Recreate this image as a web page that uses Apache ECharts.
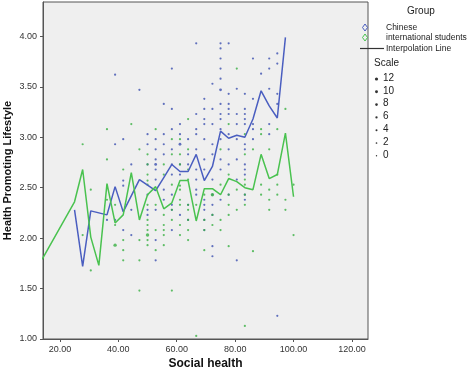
<!DOCTYPE html>
<html>
<head>
<meta charset="utf-8">
<script src="https://cdn.jsdelivr.net/npm/echarts@6/dist/echarts.min.js"></script>
<style>
  html, body { margin: 0; padding: 0; background: #fff; }
  #chart { width: 472px; height: 374px; }
</style>
</head>
<body>
<div id="chart"></div>
<script>
// axis ticks
const xTicks = [20, 40, 60, 80, 100, 120];
const yTicks = [1, 1.5, 2, 2.5, 3, 3.5, 4];

// interpolation lines (mean lifestyle per social health score)
const chineseLineX = [25, 27.78, 30.56, 33.33, 36.11, 38.89, 41.67, 47.22, 52.78, 55.56, 58.33, 61.11, 63.89, 66.67, 69.44, 72.22, 75, 77.78, 80.56, 83.33, 86.11, 88.89, 91.67, 94.44, 97.22];
const chineseLineY = [2.28, 1.72, 2.27, 2.25, 2.23, 2.51, 2.26, 2.58, 2.47, 2.60, 2.73, 2.66, 2.66, 2.83, 2.57, 2.71, 3.06, 2.99, 3.02, 3.00, 3.18, 3.46, 3.31, 3.19, 3.99];
const intlLineX = [13.89, 25, 27.78, 30.56, 33.33, 36.11, 38.89, 41.67, 44.44, 47.22, 50, 52.78, 55.56, 58.33, 61.11, 63.89, 66.67, 69.44, 72.22, 75, 77.78, 80.56, 83.33, 86.11, 88.89, 91.67, 94.44, 97.22, 100];
const intlLineY = [1.79, 2.36, 2.68, 2.01, 1.73, 2.54, 2.15, 2.23, 2.65, 2.18, 2.43, 2.51, 2.29, 2.35, 2.57, 2.57, 2.17, 2.49, 2.49, 2.43, 2.59, 2.56, 2.50, 2.48, 2.83, 2.59, 2.63, 3.04, 2.41];

// individual cases [social health, lifestyle, count]
const chineseDots = [
  [36.11,2.18,1],
  [38.89,3.62,1],[38.89,2.93,1],[38.89,2.18,1],
  [41.67,2.98,1],[41.67,2.57,1],[41.67,2.52,1],[41.67,2.08,1],
  [44.44,2.73,1],[44.44,2.28,1],[44.44,2.03,1],
  [47.22,3.47,1],
  [50,3.03,1],[50,2.93,1],[50,2.73,1],[50,2.43,1],[50,2.28,1],[50,2.23,1],
  [52.78,2.98,1],[52.78,2.88,1],[52.78,2.78,1],[52.78,2.73,2],[52.78,2.68,1],[52.78,2.58,1],[52.78,2.28,1],[52.78,1.98,1],[52.78,1.78,1],
  [55.56,3.33,1],[55.56,3.03,1],[55.56,2.93,1],[55.56,2.83,1],[55.56,2.48,1],[55.56,2.38,1],
  [58.33,3.68,1],[58.33,3.28,1],[58.33,3.08,1],[58.33,2.88,1],[58.33,2.73,1],[58.33,2.63,1],[58.33,2.43,1],[58.33,2.33,1],[58.33,2.28,1],[58.33,2.08,1],
  [61.11,3.13,1],[61.11,3.03,1],[61.11,2.93,2],[61.11,2.73,1],[61.11,2.63,1],[61.11,2.23,1],
  [63.89,2.98,1],[63.89,2.83,1],[63.89,2.73,1],[63.89,2.33,1],[63.89,2.18,1],
  [66.67,3.93,1],[66.67,3.23,1],[66.67,3.08,1],[66.67,3.03,1],[66.67,2.88,1],[66.67,2.68,1],[66.67,2.58,1],[66.67,2.48,1],[66.67,2.43,1],
  [69.44,3.38,1],[69.44,3.28,1],[69.44,3.18,1],[69.44,3.13,1],[69.44,2.98,1],[69.44,2.78,1],[69.44,2.68,1],[69.44,2.38,1],[69.44,2.33,1],[69.44,2.28,1],[69.44,2.18,1],[69.44,2.08,1],
  [72.22,3.53,1],[72.22,3.28,1],[72.22,3.13,1],[72.22,2.93,1],[72.22,2.83,1],[72.22,2.58,1],[72.22,2.43,1],[72.22,2.33,1],[72.22,2.23,1],[72.22,1.92,1],[72.22,1.82,1],
  [75,3.93,1],[75,3.88,1],[75,3.78,1],[75,3.68,1],[75,3.58,1],[75,3.47,2],[75,3.33,1],[75,3.23,1],[75,3.18,1],[75,3.08,1],[75,2.98,1],[75,2.78,1],[75,2.68,1],[75,2.38,1],
  [77.78,3.93,1],[77.78,3.43,1],[77.78,3.33,1],[77.78,3.28,1],[77.78,3.23,1],[77.78,3.03,1],[77.78,2.88,1],[77.78,2.73,1],[77.78,2.43,1],
  [80.56,3.48,1],[80.56,3.23,1],[80.56,3.13,1],[80.56,2.98,1],[80.56,2.78,1],[80.56,2.58,1],[80.56,1.78,1],
  [83.33,3.43,1],[83.33,3.28,1],[83.33,3.23,1],[83.33,3.18,1],[83.33,3.13,1],[83.33,2.93,1],[83.33,2.88,1],[83.33,2.73,1],[83.33,2.68,1],[83.33,2.63,1],[83.33,2.43,1],[83.33,2.38,1],
  [86.11,3.78,1],[86.11,3.38,1],[86.11,3.13,1],[86.11,3.08,1],[86.11,2.98,1],
  [88.89,3.63,1],
  [91.67,3.78,1],[91.67,3.68,1],[91.67,3.48,1],[91.67,3.13,1],[91.67,3.03,1],
  [94.44,3.83,1],[94.44,3.73,1],[94.44,3.43,1],[94.44,3.33,1],[94.44,1.23,1]
];
const intlDots = [
  [27.78,2.93,1],[27.78,2.03,1],
  [30.56,2.48,1],[30.56,1.68,1],
  [36.11,3.08,1],[36.11,2.78,1],[36.11,2.38,1],
  [38.89,2.33,1],[38.89,2.13,1],[38.89,1.93,3],
  [41.67,2.68,1],[41.67,1.98,1],[41.67,1.88,1],[41.67,1.78,1],
  [44.44,3.13,1],
  [47.22,2.88,1],[47.22,1.98,1],[47.22,1.78,1],[47.22,1.48,1],
  [50,2.83,1],[50,2.73,1],[50,2.63,1],[50,2.57,1],[50,2.53,1],[50,2.33,1],[50,2.18,1],[50,2.13,1],[50,2.08,1],[50,2.03,3],[50,1.98,1],[50,1.93,1],
  [52.78,3.08,1],[52.78,2.33,1],[52.78,2.08,1],[52.78,1.88,1],
  [55.56,2.73,1],[55.56,2.63,1],[55.56,2.23,1],[55.56,2.13,1],[55.56,2.08,1],[55.56,2.03,1],[55.56,1.93,1],
  [58.33,2.98,1],[58.33,2.83,1],[58.33,2.53,1],[58.33,2.28,1],[58.33,2.18,1],[58.33,1.48,1],
  [61.11,2.98,1],[61.11,2.83,1],[61.11,2.73,1],[61.11,2.52,1],[61.11,2.48,1],[61.11,2.38,1],[61.11,2.33,1],[61.11,2.13,1],[61.11,2.03,1],
  [63.89,3.18,1],[63.89,2.88,1],[63.89,2.68,1],[63.89,2.58,1],[63.89,2.33,1],[63.89,2.28,1],[63.89,2.18,1],[63.89,2.08,1],[63.89,1.98,1],
  [66.67,2.33,1],[66.67,1.03,1],
  [69.44,2.43,1],[69.44,2.18,1],[69.44,2.08,1],[69.44,1.88,1],
  [72.22,2.43,3],[72.22,2.23,1],[72.22,2.13,1],
  [75,2.88,1],[75,2.53,1],[75,2.18,1],[75,2.08,1],
  [77.78,3.13,1],[77.78,2.63,1],[77.78,2.43,1],[77.78,2.33,1],[77.78,2.23,1],[77.78,1.92,1],
  [80.56,3.68,1],[80.56,2.48,1],[80.56,2.28,1],
  [83.33,3.03,1],[83.33,2.83,1],[83.33,2.58,1],[83.33,2.53,1],[83.33,2.43,1],[83.33,2.33,1],[83.33,1.13,1],
  [86.11,2.88,1],[86.11,1.87,1],
  [88.89,3.08,1],[88.89,3.03,1],[88.89,2.53,1],[88.89,2.43,1],
  [91.67,2.88,1],[91.67,2.48,1],[91.67,2.38,1],[91.67,2.28,1],
  [94.44,3.08,1],[94.44,2.63,1],[94.44,2.53,1],[94.44,2.43,1],
  [97.22,3.28,1],[97.22,2.38,1],[97.22,2.28,1],
  [100,2.53,1],[100,2.03,1]
];

// legend texts
const scaleLabels = ['12', '10', '8', '6', '4', '2', '0'];

const blue = '#4a5ec0';
const green = '#49c24f';
const font = '"Liberation Sans", Arial, sans-serif';

const zip = (xs, ys) => xs.map((x, i) => [x, ys[i]]);
const dotSize = v => 1.6 + v[2] * 0.6;

// legend on the right, drawn as graphics
const legendEls = [
  { type: 'text', left: 407, top: 6, style: { text: 'Group', font: '10px ' + font, fill: '#222' } },
  { type: 'polygon', shape: { points: [[365, 24], [367.5, 27.5], [365, 31], [362.5, 27.5]] }, style: { fill: 'none', stroke: blue, lineWidth: 1 } },
  { type: 'text', left: 386, top: 23, style: { text: 'Chinese', font: '8.5px ' + font, fill: '#222' } },
  { type: 'polygon', shape: { points: [[365, 34], [367.5, 37.5], [365, 41], [362.5, 37.5]] }, style: { fill: 'none', stroke: green, lineWidth: 1 } },
  { type: 'text', left: 386, top: 33, style: { text: 'international students', font: '8.5px ' + font, fill: '#222' } },
  { type: 'line', shape: { x1: 360, y1: 48.5, x2: 384, y2: 48.5 }, style: { stroke: '#333', lineWidth: 1.2 } },
  { type: 'text', left: 386, top: 44, style: { text: 'Interpolation Line', font: '8.5px ' + font, fill: '#222' } },
  { type: 'text', left: 374, top: 58, style: { text: 'Scale', font: '10px ' + font, fill: '#222' } }
];
scaleLabels.forEach((t, i) => {
  const cy = 79 + i * 12.8;
  legendEls.push({ type: 'circle', shape: { cx: 376.5, cy: cy, r: 1.6 - i * 0.15 }, style: { fill: '#333' } });
  legendEls.push({ type: 'text', left: 383, top: cy - 6, style: { text: t, font: '10px ' + font, fill: '#222' } });
});

const chart = echarts.init(document.getElementById('chart'));
chart.setOption({
  animation: false,
  backgroundColor: '#fff',
  grid: {
    left: 43, right: 104, top: 2, bottom: 35,
    outerBoundsMode: 'none', containLabel: false,
    show: true, backgroundColor: '#efefef', borderColor: '#555', borderWidth: 1
  },
  xAxis: {
    type: 'value', min: 14.2, max: 125.5,
    name: 'Social health', nameLocation: 'middle', nameGap: 19, nameMoveOverlap: false,
    nameTextStyle: { fontFamily: font, fontWeight: 'bold', fontSize: 12, color: '#111' },
    axisLine: { show: true, lineStyle: { color: '#555' } },
    axisTick: { show: true, length: 3, customValues: xTicks, lineStyle: { color: '#555' } },
    axisLabel: { customValues: xTicks, formatter: v => v.toFixed(2), fontFamily: font, fontSize: 9, color: '#333', margin: 6 },
    splitLine: { show: false }
  },
  yAxis: {
    type: 'value', min: 1, max: 4.34,
    name: 'Health Promoting Lifestyle', nameLocation: 'middle', nameGap: 30, nameRotate: 90, nameMoveOverlap: false,
    nameTextStyle: { fontFamily: font, fontWeight: 'bold', fontSize: 11, color: '#111' },
    axisLine: { show: true, lineStyle: { color: '#555' } },
    axisTick: { show: true, length: 3, customValues: yTicks, lineStyle: { color: '#555' } },
    axisLabel: { customValues: yTicks, formatter: v => v.toFixed(2), fontFamily: font, fontSize: 9, color: '#333', margin: 6 },
    splitLine: { show: false }
  },
  graphic: legendEls,
  series: [
    { name: 'Chinese', type: 'scatter', data: chineseDots, symbol: 'circle', symbolSize: dotSize, itemStyle: { color: '#3c50b0' }, z: 2 },
    { name: 'international students', type: 'scatter', data: intlDots, symbol: 'circle', symbolSize: dotSize, itemStyle: { color: '#38b042' }, z: 2 },
    { name: 'Chinese line', type: 'line', data: zip(chineseLineX, chineseLineY), showSymbol: false, lineStyle: { color: blue, width: 1.5 }, z: 3 },
    { name: 'international line', type: 'line', data: zip(intlLineX, intlLineY), showSymbol: false, lineStyle: { color: green, width: 1.5 }, z: 3 }
  ]
});
</script>
</body>
</html>
